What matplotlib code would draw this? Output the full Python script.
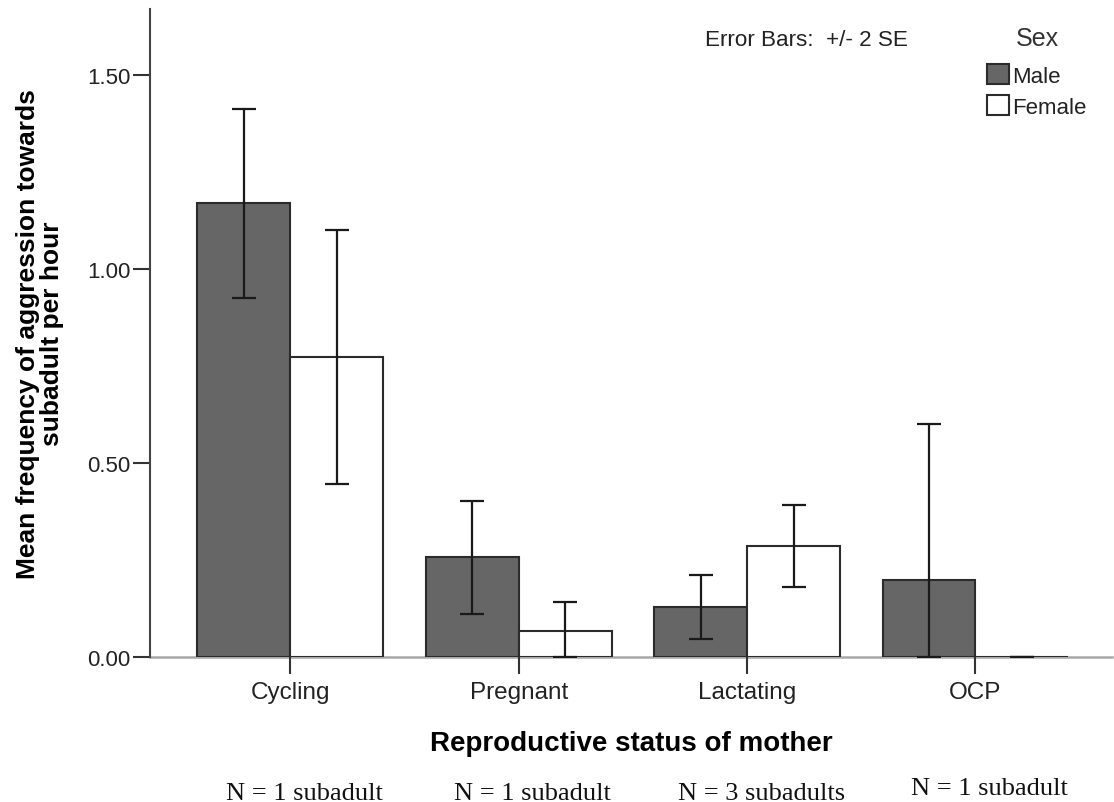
import numpy as np
import matplotlib
matplotlib.use("Agg")
import matplotlib.pyplot as plt
from matplotlib.patches import Patch
from matplotlib.transforms import blended_transform_factory

plt.rcParams['font.family'] = ['Liberation Sans', 'DejaVu Sans']

# data (means and +/- 2 SE bounds, clipped at 0)
statuses = ["Cycling", "Pregnant", "Lactating", "OCP"]
male_mean = [1.170, 0.257, 0.130, 0.199]
male_low = [0.925, 0.111, 0.047, 0.000]
male_high = [1.411, 0.401, 0.212, 0.601]
female_mean = [0.773, 0.068, 0.287, 0.000]
female_low = [0.446, 0.000, 0.180, 0.000]
female_high = [1.101, 0.141, 0.391, 0.000]
n_labels = ["N = 1 subadult", "N = 1 subadult", "N = 3 subadults", "N = 1 subadult"]
yticks = [0.0, 0.5, 1.0, 1.5]

fig = plt.figure(figsize=(11.14, 8.03), dpi=100)
ax = fig.add_axes([150 / 1114, 145 / 803, 962 / 1114, 648 / 803])

x = np.arange(len(statuses))
w = 0.407

male_mean = np.array(male_mean)
female_mean = np.array(female_mean)
m_err = [male_mean - np.array(male_low), np.array(male_high) - male_mean]
f_err = [female_mean - np.array(female_low), np.array(female_high) - female_mean]

ax.bar(x - w / 2, male_mean, w, color="#666666", edgecolor="#2b2b2b", linewidth=1.5,
       label="Male", zorder=2)
ax.bar(x + w / 2, female_mean, w, color="white", edgecolor="#2b2b2b", linewidth=1.5,
       label="Female", zorder=2)
ax.errorbar(x - w / 2, male_mean, yerr=m_err, fmt="none", ecolor="#1a1a1a",
            elinewidth=1.6, capsize=8.3, capthick=1.6, zorder=3)
ax.errorbar(x + w / 2, female_mean, yerr=f_err, fmt="none", ecolor="#1a1a1a",
            elinewidth=1.6, capsize=8.3, capthick=1.6, zorder=3)

ax.set_xlim(-0.615, 3.598)
ax.set_ylim(0, 1.67)
ax.set_xticks(x)
ax.set_xticklabels(statuses, fontsize=17.5, color="#222222")
ax.set_yticks(yticks)
ax.set_yticklabels([f"{v:.2f}" for v in yticks], fontsize=16, color="#222222")
ax.tick_params(axis="both", direction="out", length=12, width=1.5, color="#333333")
ax.tick_params(axis="x", pad=5)
ax.tick_params(axis="y", pad=2)

for s in ["top", "right"]:
    ax.spines[s].set_visible(False)
ax.spines["left"].set_color("#444444")
ax.spines["left"].set_linewidth(1.5)
ax.spines["bottom"].set_color("#a8a8a8")
ax.spines["bottom"].set_linewidth(1.8)
ax.spines["bottom"].set_zorder(1)

ax.set_xlabel("Reproductive status of mother", fontsize=20, fontweight="bold",
              labelpad=19.5)
fig.text(40 / 1114, 1 - 334 / 803, "Mean frequency of aggression towards\nsubadult per hour",
         rotation=90, ha="center", va="center", fontsize=19, fontweight="bold",
         linespacing=0.95, multialignment="center")

# sample sizes under each category
trans = blended_transform_factory(ax.transData, fig.transFigure)
n_y = [1 - 800 / 803, 1 - 800 / 803, 1 - 800 / 803, 1 - 795 / 803]
for xi, lab, yy in zip(x, n_labels, n_y):
    ax.text(xi + 0.062, yy, lab, transform=trans, ha="center", va="baseline",
            fontsize=19, family=["Liberation Serif", "DejaVu Serif"], color="#111111")

fig.text(806 / 1114, 1 - 40 / 803, "Error Bars:  +/- 2 SE", ha="center", va="center",
         fontsize=16.2, color="#222222")

fig.text(1037 / 1114, 1 - 39 / 803, "Sex", ha="center", va="center",
         fontsize=18, color="#333333")
handles = [Patch(facecolor="#666666", edgecolor="#2b2b2b", linewidth=1.5, label="Male"),
           Patch(facecolor="white", edgecolor="#2b2b2b", linewidth=1.5, label="Female")]
leg = fig.legend(handles=handles, loc="upper left",
                 bbox_to_anchor=(987 / 1114, 1 - 65 / 803), frameon=False,
                 fontsize=16, handlelength=1.0, handleheight=1.0,
                 handletextpad=0.15, labelspacing=0.4, borderpad=0, borderaxespad=0)
for t in leg.get_texts():
    t.set_color("#222222")

fig.savefig("out.png", dpi=100)
